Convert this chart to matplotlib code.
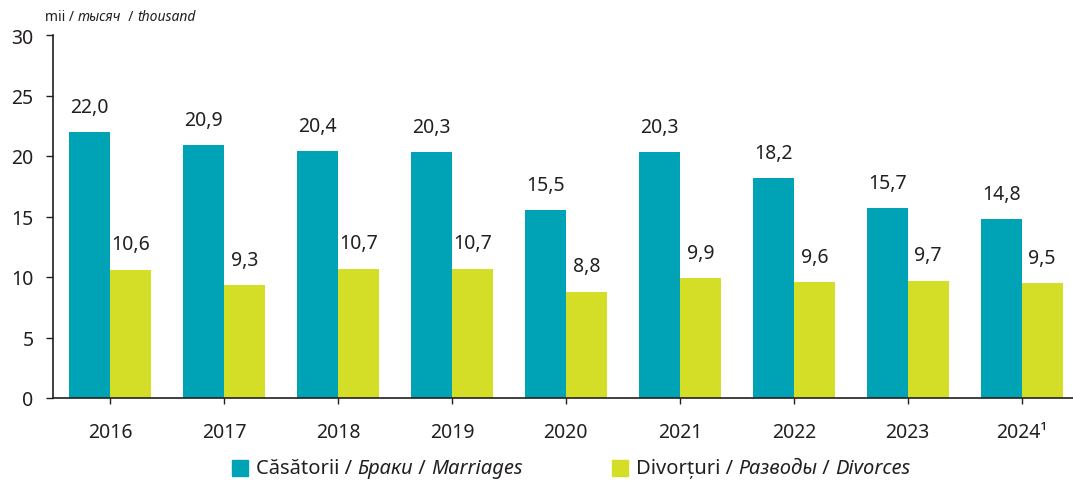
import matplotlib
matplotlib.use("Agg")
import matplotlib.pyplot as plt
import numpy as np
from matplotlib.patches import Rectangle
from matplotlib.transforms import IdentityTransform

plt.rcParams['font.family'] = ['Noto Sans', 'DejaVu Sans']

years = ['2016', '2017', '2018', '2019', '2020', '2021', '2022', '2023', '2024¹']
marriages = [22.0, 20.9, 20.4, 20.3, 15.5, 20.3, 18.2, 15.7, 14.8]
divorces = [10.6, 9.3, 10.7, 10.7, 8.8, 9.9, 9.6, 9.7, 9.5]
yticks = [0, 5, 10, 15, 20, 25, 30]

teal = '#00A2B6'
lime = '#D4DE27'
txt = '#231F20'
fs = 14

W, H = 1073, 485
fig = plt.figure(figsize=(W / 100, H / 100), dpi=100)
ax = fig.add_axes([53 / W, 1 - 399 / H, 1 - 53 / W, (399 - 36) / H])

x = np.arange(len(years))
bw = 0.36
b1 = ax.bar(x - bw / 2, marriages, bw, color=teal)
b2 = ax.bar(x + bw / 2, divorces, bw, color=lime)

for bars, vals in ((b1, marriages), (b2, divorces)):
    for b, v in zip(bars, vals):
        ax.annotate(f"{v:.1f}".replace('.', ','),
                    (b.get_x() + b.get_width() / 2, v),
                    xytext=(0, 11), textcoords='offset points',
                    ha='center', va='bottom', fontsize=fs, color=txt)

ax.set_xlim(-0.5, 8.45)
ax.set_ylim(0, 30)
ax.set_yticks(yticks)
ax.set_xticks(x)
ax.set_xticklabels(years)
ax.tick_params(axis='y', length=5, width=1, pad=9, labelsize=fs, colors=txt)
ax.tick_params(axis='x', length=4, width=1, pad=13, labelsize=fs, colors=txt)
for s in ('top', 'right'):
    ax.spines[s].set_visible(False)
for s in ('left', 'bottom'):
    ax.spines[s].set_color(txt)
    ax.spines[s].set_linewidth(1.2)

fig.canvas.draw()
renderer = fig.canvas.get_renderer()


def rich_text(px, py, parts, size):
    # draw pieces one after another, pixel coords from top-left
    cur = px
    for s, style in parts:
        t = fig.text(cur, H - py, s, transform=IdentityTransform(),
                     fontsize=size, style=style, color=txt, va='center', ha='left')
        bb = t.get_window_extent(renderer)
        cur = bb.x1
    return cur


rich_text(45, 18, [('mii / ', 'normal'), ('тысяч', 'italic'), ('  / ', 'normal'),
                   ('thousand', 'italic')], 10)

legend_items = [
    (232, teal, [('Căsătorii / ', 'normal'), ('Браки', 'italic'), (' / ', 'normal'),
                 ('Marriages', 'italic')]),
    (612, lime, [('Divorțuri / ', 'normal'), ('Разводы', 'italic'), (' / ', 'normal'),
                 ('Divorces', 'italic')]),
]
for px, col, parts in legend_items:
    fig.patches.append(Rectangle((px, H - 477), 16, 16, color=col,
                                 transform=IdentityTransform()))
    rich_text(px + 24, 469, parts, 14.5)

fig.savefig('out.png', dpi=100)
